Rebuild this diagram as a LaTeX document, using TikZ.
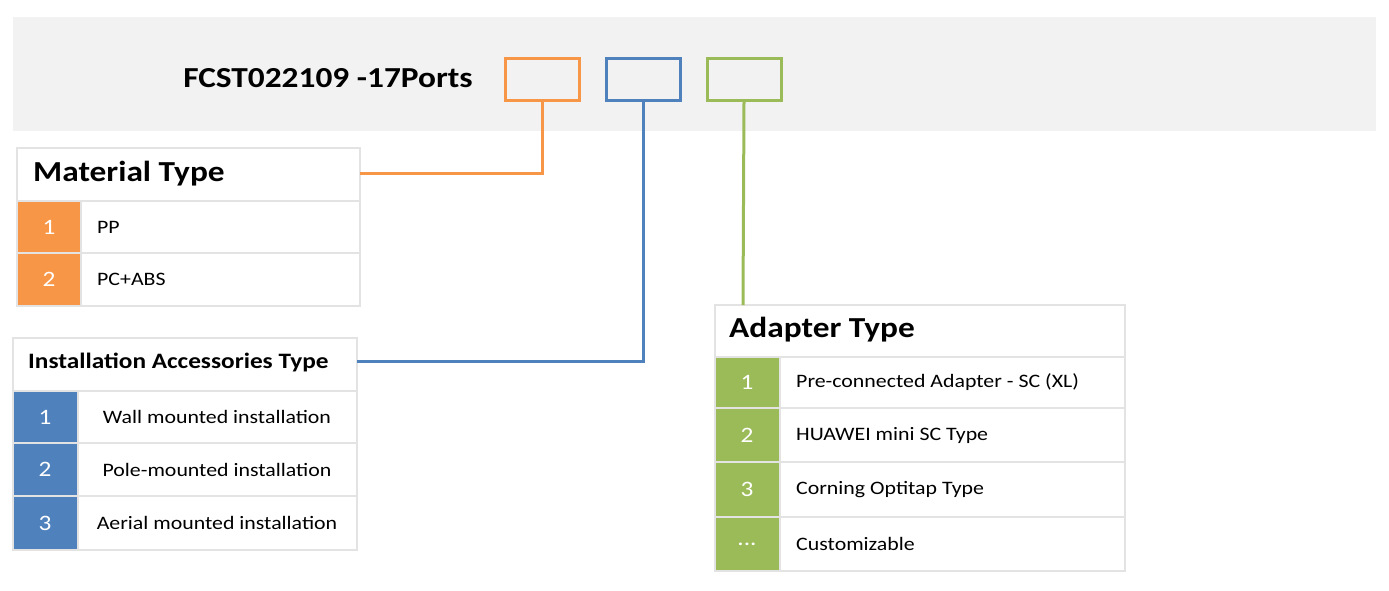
\documentclass[tikz,border=0pt]{standalone}
\usepackage{fontspec}
\setmainfont{Carlito}[FakeStretch=1.15]
\definecolor{og}{HTML}{F79646}
\definecolor{bl}{HTML}{4F81BD}
\definecolor{gr}{HTML}{9BBB59}
\definecolor{bd}{HTML}{E3E3E3}
\definecolor{band}{HTML}{F2F2F2}
\begin{document}
\begin{tikzpicture}[x=1pt,y=-1pt,
  cell/.style={draw=bd,line width=1.2pt},
  num/.style={text=white,font=\fontsize{22}{24}\selectfont},
  item/.style={font=\fontsize{19}{22}\selectfont,anchor=west,inner sep=0pt},
  hd/.style={font=\bfseries\fontsize{29}{31}\selectfont,anchor=west,inner sep=0pt},
  code/.style={line width=3pt,minimum width=74pt,minimum height=42pt,inner sep=0pt},
  conn/.style={line width=3pt}]
\useasboundingbox (0,0) rectangle (1389,590);
\fill[band] (13,17) rectangle (1376,131);
\node[font=\bfseries\fontsize{29}{31}\selectfont] (title) at (328,78) {FCST022109 -17Ports};
\node[code,draw=og] (bo) at (542,79) {};
\node[code,draw=bl] (bb) at (643,79) {};
\node[code,draw=gr] (bg) at (744,79) {};
% Material
\draw[cell,fill=white] (17,148) rectangle (360,201);
\node[hd] (mh) at (33,174) {Material Type};
\coordinate (mc) at (360,173);
\foreach \a/\b/\n/\t in {201/253/1/PP,253/306/2/PC+ABS}{
  \fill[og] (17,\a) rectangle (81,\b);
  \draw[cell] (17,\a) rectangle (360,\b);
  \draw[cell] (81,\a) -- (81,\b);
  \node[num] at (49,{(\a+\b)/2}) {\n};
  \node[item] at (97,{(\a+\b)/2}) {\t};
}
% Installation
\draw[cell,fill=white] (13,338) rectangle (357,391);
\node[font=\bfseries\fontsize{22}{24}\selectfont,anchor=west,inner sep=0pt] (ih) at (28,362) {Installation Accessories Type};
\coordinate (ic) at (357,361);
\foreach \a/\b/\n/\t in {391/443/1/Wall mounted installation,443/496/2/Pole-mounted installation,496/550/3/Aerial mounted installation}{
  \fill[bl] (13,\a) rectangle (78,\b);
  \draw[cell] (13,\a) rectangle (357,\b);
  \draw[cell] (78,\a) -- (78,\b);
  \node[num] at (45,{(\a+\b)/2}) {\n};
  \node[font=\fontsize{19}{22}\selectfont] at (217,{(\a+\b)/2}) {\t};
}
% Adapter
\draw[cell,fill=white] (715,305) rectangle (1125,357);
\node[hd] (ah) at (729,330) {Adapter Type};
\coordinate (ac) at (743,305);
\foreach \a/\b/\n/\t in {357/408/1/{Pre-connected Adapter - SC (XL)},408/462/2/{HUAWEI mini SC Type},462/517/3/{Corning Optitap Type},517/571/{...}/{Customizable}}{
  \fill[gr] (715,\a) rectangle (780,\b);
  \draw[cell] (715,\a) rectangle (1125,\b);
  \draw[cell] (780,\a) -- (780,\b);
  \node[num] at (747,{(\a+\b)/2}) {\n};
  \node[item] at (796,{(\a+\b)/2}) {\t};
}
\draw[conn,og] (bo.south) |- (mc);
\draw[conn,bl] (bb.south) |- (ic);
\draw[conn,gr] (bg.south) -- (ac);
\end{tikzpicture}
\end{document}
